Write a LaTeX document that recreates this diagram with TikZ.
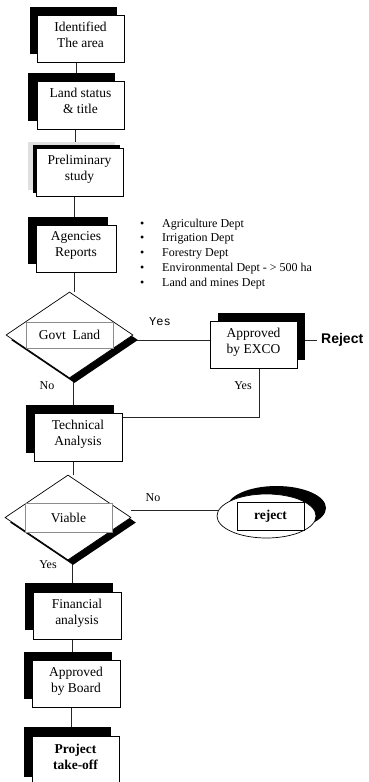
\documentclass[tikz,border=0pt]{standalone}
\usepackage{fontspec}
\setmainfont{Liberation Serif}
\newfontfamily\monof{Liberation Mono}
\newfontfamily\sansf{Liberation Sans}
\usetikzlibrary{shapes.geometric,shadows,backgrounds}
\tikzset{
  stepbox/.style={draw=black, line width=0.7pt, fill=white, align=center, inner sep=0pt,
    minimum width=87pt, minimum height=47pt, text depth=8pt, font=\fontsize{13.5}{16}\selectfont},
  shad/.style 2 args={drop shadow={shadow xshift=#1, shadow yshift=#2, fill=black, opacity=1}},
  decision/.style={diamond, draw=black, line width=0.7pt, fill=white, inner sep=0pt},
  inner/.style={draw=black!45, line width=0.5pt, fill=white, inner sep=0pt, font=\fontsize{13.5}{16}\selectfont},
  conn/.style={draw=black!85, line width=0.6pt},
  lbl/.style={font=\fontsize{12}{14}\selectfont, inner sep=0pt},
}
\begin{document}
\begin{tikzpicture}[x=1pt,y=-1pt]
\clip (0,0) rectangle (368,782);

% boxes
\node[stepbox, shad={-7pt}{8pt}] (b1) at (80.5,38.5) {Identified\\The area};
\node[stepbox, shad={-9pt}{8pt}, minimum height=48pt] (b2) at (80.5,105) {Land status\\\& title};
\node[stepbox, drop shadow={shadow xshift=-8pt, shadow yshift=6pt, fill=black!12, opacity=1},
      shad={-3pt}{3pt}, minimum height=48pt] (b3) at (79.5,172) {Preliminary\\study};
\node[stepbox, shad={-8pt}{8pt}, minimum width=80pt] (b4) at (76,248.5) {Agencies\\Reports};

% bullet list
\node[anchor=north west, inner sep=0pt, font=\fontsize{12}{14.75}\selectfont] (lst) at (140,216.5)
  {\begin{tabular}{@{}p{22pt}@{}l@{}}
   \textbullet & Agriculture Dept\\
   \textbullet & Irrigation Dept\\
   \textbullet & Forestry Dept\\
   \textbullet & Environmental Dept - > 500 ha\\
   \textbullet & Land and mines Dept
   \end{tabular}};

% decision 1
\node[decision, shad={5pt}{-5pt}, minimum width=127pt, minimum height=86pt] (d1) at (69.5,335) {};
\node[inner, minimum width=87pt, minimum height=26pt] (g1) at (69.5,335) {Govt\ \ Land};

% approved by EXCO
\node[stepbox, shad={8pt}{8pt}] (ex) at (253.5,344.5) {Approved\\by EXCO};
\node[anchor=west, inner sep=0pt, font=\sansf\bfseries\fontsize{14}{16}\selectfont] (rj) at (321,340) {Reject};

% technical
\node[stepbox, shad={-8pt}{8pt}, minimum width=88pt, minimum height=48pt] (b5) at (78,437) {Technical\\Analysis};

% decision 2
\node[decision, shad={5pt}{-5pt}, minimum width=126pt, minimum height=85pt] (d2) at (68,517.5) {};
\node[inner, minimum width=87pt, minimum height=29pt] (g2) at (68.5,517.5) {Viable};

% reject ellipse
\node[ellipse, draw=black, line width=0.7pt, fill=white, minimum width=99pt, minimum height=44pt,
      drop shadow={shadow xshift=10pt, shadow yshift=8pt, fill=black, opacity=1}] (el) at (266.5,516) {};
\node[draw=black, line width=0.7pt, fill=white, minimum width=67pt, minimum height=28pt, inner sep=0pt,
      font=\bfseries\fontsize{13.5}{16}\selectfont] (r2) at (270.5,516) {reject};

% lower boxes
\node[stepbox, shad={-8pt}{9pt}, minimum width=88pt] (b6) at (77,615.5) {Financial\\analysis};
\node[stepbox, shad={-8pt}{8pt}, minimum width=88pt] (b7) at (76,683.5) {Approved\\by Board};
\node[stepbox, shad={-8pt}{9pt}, minimum height=50pt, font=\bfseries\fontsize{13.5}{16}\selectfont] (b8) at (75.5,761) {Project\\take-off};

% labels
\node[lbl, font=\monof\fontsize{12}{14}\selectfont] (y1) at (160,322) {Yes};
\node[lbl] (y2) at (243,386) {Yes};
\node[lbl] (n1) at (47,386) {No};
\node[lbl] (n2) at (153,498) {No};
\node[lbl] (y3) at (48,565) {Yes};

% connectors
\begin{scope}[on background layer]
\draw[conn] (76,0 |- b1.south) -- (76,0 |- b2.north);
\draw[conn] (75,0 |- b2.south) -- (75,0 |- b3.north);
\draw[conn] (74,0 |- b3.south) -- (74,0 |- b4.north);
\draw[conn] (74,0 |- b4.south) -- (74,0 |- d1.north);
\draw[conn] (73,0 |- d1.south) -- (73,0 |- b5.north);
\draw[conn] ([yshift=-5pt]d1.east) -- ([yshift=-5pt]d1.east -| ex.west);
\draw[conn, shorten >=4pt] ([xshift=8pt,yshift=4.5pt]ex.east) -- (rj.west);
\draw[conn] (259,0 |- ex.south) -- (259,417) -- (b5.east |- 259,417);
\draw[conn] (73,0 |- b5.south) -- (73,0 |- d2.north);
\draw[conn] (d2.east |- 0,510) -- (el.center |- 0,510);
\draw[conn] (72,0 |- d2.south) -- (72,0 |- b6.north);
\draw[conn] (72,0 |- b6.south) -- (72,0 |- b7.north);
\draw[conn] (71,0 |- b7.south) -- (71,0 |- b8.north);
\end{scope}
\end{tikzpicture}
\end{document}
